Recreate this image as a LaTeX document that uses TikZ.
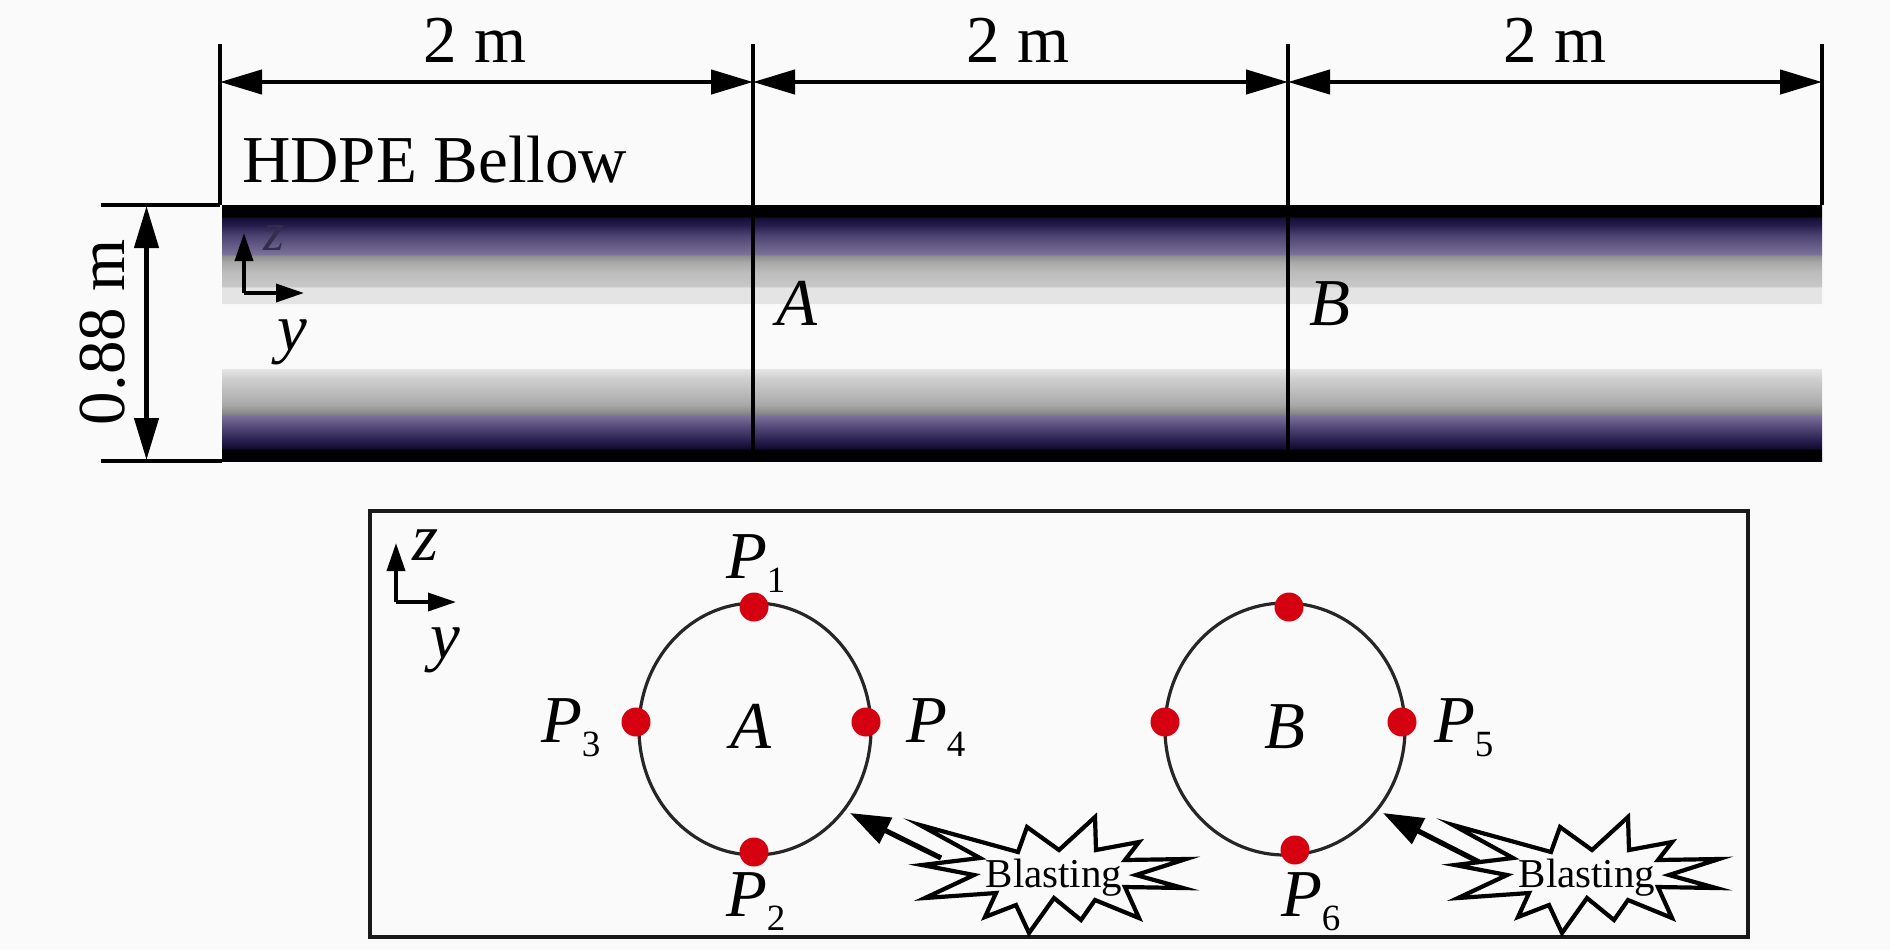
\documentclass[tikz,border=0pt]{standalone}
\usepackage{fontspec}
\setmainfont{Liberation Serif}
\usetikzlibrary{arrows.meta,shapes.geometric,calc}
\definecolor{bgc}{HTML}{FAFAFA}
\definecolor{na}{HTML}{120C30}
\definecolor{nb}{HTML}{140E38}
\definecolor{nc}{HTML}{251C4C}
\definecolor{nd}{HTML}{4A4270}
\definecolor{ne}{HTML}{7A7099}
\definecolor{nf}{HTML}{5A5080}
\definecolor{ng}{HTML}{2A2050}
\definecolor{ga}{HTML}{8F8F90}
\definecolor{gb}{HTML}{A8A8A8}
\definecolor{gc}{HTML}{BCBCBC}
\definecolor{gd}{HTML}{C8C8C8}
\definecolor{ge}{HTML}{E4E4E4}
\definecolor{gf}{HTML}{D0D0D0}
\definecolor{gh}{HTML}{888888}
\definecolor{redpt}{HTML}{D50010}
\pgfdeclareverticalshading{bellow}{100bp}{
color(0bp)=(black); color(27.15bp)=(black); color(27.55bp)=(na); color(29.1bp)=(ng);
color(32.05bp)=(nf); color(33.8bp)=(ne); color(34.38bp)=(gh); color(35.95bp)=(gb);
color(38.5bp)=(gc); color(41.2bp)=(gf); color(42.95bp)=(ge); color(43.15bp)=(bgc);
color(55.65bp)=(bgc); color(55.85bp)=(ge); color(58.8bp)=(ge); color(59.2bp)=(gd);
color(61.9bp)=(gc); color(63.85bp)=(gb); color(65.05bp)=(ga); color(65.45bp)=(ne);
color(69.15bp)=(nd); color(71.1bp)=(nc); color(72.45bp)=(nb); color(72.85bp)=(black);
color(100bp)=(black)}
\newcommand{\Plabel}[1]{\textit{P}\raisebox{-7pt}{\fontsize{18.5pt}{20pt}\selectfont #1}}
\newcommand{\blastpath}{(-134,-50) -- (-36,-23) -- (-27,-48) -- (5,-25) -- (41,-58) -- (42,-25) -- (85,-33) -- (71,-15) -- (132,-16) -- (82,0) -- (129,13) -- (71,12) -- (85,43) -- (41,25) -- (27,45) -- (0,23) -- (-25,58) -- (-38,30) -- (-69,42) -- (-58,18) -- (-129,23) -- (-80,0) -- (-132,-10) -- (-74,-17) -- cycle}
\tikzset{
  x=0.5pt,y=-0.5pt,
  dimline/.style={line width=2.2pt,black},
  dimarrow/.style={line width=2.2pt,black,{Triangle[length=21pt,width=12pt]}-{Triangle[length=21pt,width=12pt]}},
  axisarrow/.style={line width=1.8pt,black,-{Triangle[length=14pt,width=9pt]}},
  lbl/.style={inner sep=0pt,outer sep=0pt,font=\fontsize{33.5pt}{36pt}\selectfont},
  ital/.style={lbl,font=\fontsize{33.5pt}{36pt}\selectfont\itshape},
  ringshape/.style={draw=black!85,line width=1.6pt,ellipse,inner sep=0pt,outer sep=0pt,minimum width=116pt,minimum height=126pt},
  redpoint/.style={circle,fill=redpt,draw=none,minimum size=14.5pt,inner sep=0pt},
  blaststar/.style={draw=black,line width=2.1pt,line join=miter,miter limit=10},
  blasttext/.style={inner sep=0pt,font=\fontsize{20.5pt}{22pt}\selectfont},
  blastarrow/.style={line width=2.6pt,black,-{Triangle[length=20pt,width=14pt]}}
}
\begin{document}
\begin{tikzpicture}
\useasboundingbox (0,0) rectangle (1890,950);
\fill[bgc] (0,0) rectangle (1890,950);
% bellow
\shade[shading=bellow] (222,205) rectangle (1822,461);
\draw[line width=2pt,black] (753,205) -- (753,461);
\draw[line width=2pt,black] (1288,205) -- (1288,461);
% named points
\coordinate (t0) at (220,44);
\coordinate (t1) at (753,44);
\coordinate (t2) at (1288,44);
\coordinate (t3) at (1822,44);
\coordinate (b0) at (220,205);
\coordinate (b1) at (753,205);
\coordinate (b2) at (1288,205);
\coordinate (b3) at (1822,205);
\coordinate (d0) at (220,82);
\coordinate (d1) at (753,82);
\coordinate (d2) at (1288,82);
\coordinate (d3) at (1822,82);
\coordinate (hl) at (101,205);
\coordinate (ll) at (101,461);
\coordinate (lr) at (222,461);
\coordinate (vt) at (146.5,206);
\coordinate (vb) at (146.5,460);
\draw[dimline] (t0) -- (b0);
\draw[dimline] (t1) -- (b1);
\draw[dimline] (t2) -- (b2);
\draw[dimline] (t3) -- (b3);
\draw[dimline] (hl) -- (b0);
\draw[dimline] (ll) -- (lr);
\draw[dimarrow] (d0) -- (d1);
\draw[dimarrow] (d1) -- (d2);
\draw[dimarrow] (d2) -- (d3);
\draw[dimarrow] (vt) -- (vb);
\node[lbl,anchor=base] (w1) at (475,62) {2 m};
\node[lbl,anchor=base] (w2) at (1018,62) {2 m};
\node[lbl,anchor=base] (w3) at (1555,62) {2 m};
\node[lbl,anchor=base west] (hdpe) at (242,182) {HDPE Bellow};
\node[lbl,anchor=base,rotate=90] (h) at (124,332) {0.88 m};
\node[ital,anchor=base] (sa) at (797,325) {A};
\node[ital,anchor=base] (sb) at (1330,325) {B};
% upper axes
\coordinate (o1) at (244,293);
\coordinate (o1z) at (244,233);
\coordinate (o1y) at (304,293);
\draw[axisarrow] (o1) -- (o1z);
\draw[axisarrow] (o1) -- (o1y);
\node[ital,anchor=base,text=nd!70!black] (z1) at (274,250) {\fontsize{27pt}{30pt}\selectfont z};
\node[ital,anchor=base] (y1) at (292,350) {y};
% frame
\draw[line width=2.4pt,black!90] (370,511) rectangle (1748,937);
% lower axes
\coordinate (o2) at (396,602);
\coordinate (o2z) at (396,543);
\coordinate (o2y) at (456,602);
\draw[axisarrow] (o2) -- (o2z);
\draw[axisarrow] (o2) -- (o2y);
\node[ital,anchor=base] (z2) at (426,560) {z};
\node[ital,anchor=base] (y2) at (445,658) {y};
% rings
\node[ringshape] (ringA) at (755,729) {};
\node[ringshape,minimum width=120pt] (ringB) at (1285,729) {};
\node[redpoint] (p1) at (754,607) {};
\node[redpoint] (p2) at (754,852) {};
\node[redpoint] (p3) at (636,722) {};
\node[redpoint] (p4) at (866,722) {};
\node[redpoint] (p7) at (1289,607) {};
\node[redpoint] (p6) at (1295,850) {};
\node[redpoint] (p8) at (1165,722) {};
\node[redpoint] (p5) at (1402,722) {};
\node[ital,anchor=base] (la) at (751,748) {A};
\node[ital,anchor=base] (lb) at (1285,748) {B};
\node[lbl,anchor=base west] (l1) at (726,578) {\Plabel{1}};
\node[lbl,anchor=base west] (l2) at (726,916) {\Plabel{2}};
\node[lbl,anchor=base west] (l3) at (541,742) {\Plabel{3}};
\node[lbl,anchor=base west] (l4) at (906,742) {\Plabel{4}};
\node[lbl,anchor=base west] (l5) at (1434,742) {\Plabel{5}};
\node[lbl,anchor=base west] (l6) at (1281,916) {\Plabel{6}};
% blasts
\coordinate (tipA) at (850,813);
\coordinate (tailA) at (941,858);
\coordinate (tipB) at (1383,813);
\coordinate (tailB) at (1479,862);
\draw[blastarrow] (tailA) -- (tipA);
\draw[blastarrow] (tailB) -- (tipB);
\begin{scope}[shift={(1054,875)}]
\draw[blaststar] \blastpath;
\node[blasttext] (blastA) at (0,3) {Blasting};
\end{scope}
\begin{scope}[shift={(1587,875)}]
\draw[blaststar] \blastpath;
\node[blasttext] (blastB) at (0,3) {Blasting};
\end{scope}
\end{tikzpicture}
\end{document}
